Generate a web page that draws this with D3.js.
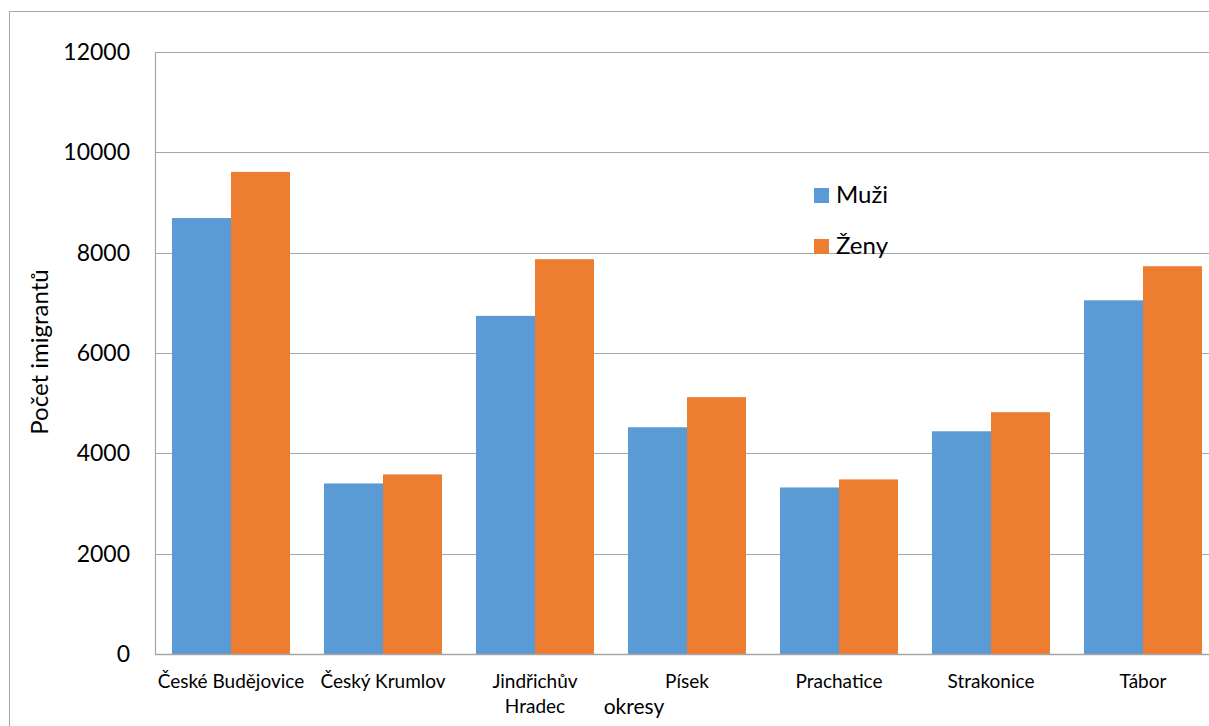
<!DOCTYPE html>
<html>
<head>
<meta charset="utf-8">
<script src="https://cdn.jsdelivr.net/npm/d3@7"></script>
<style>
  body { margin: 0; background: #fff; }
  text { font-family: Lato, "Open Sans", sans-serif; fill: #000; }
</style>
</head>
<body>
<div id="chart-container"></div>
<script>
const categories = ["České Budějovice", "Český Krumlov", "Jindřichův Hradec", "Písek", "Prachatice", "Strakonice", "Tábor"];
const seriesNames = ["Muži", "Ženy"];
const muzi = [8690, 3400, 6740, 4520, 3320, 4440, 7050];
const zeny = [9610, 3580, 7870, 5120, 3480, 4820, 7730];
const yTicks = [0, 2000, 4000, 6000, 8000, 10000, 12000];

const colors = ["#5B9BD5", "#ED7D31"];
const width = 1209, height = 726;
const margin = { top: 52, left: 155, bottom: 72, right: -10 };

const data = categories.map((c, i) => ({ cat: c, Muži: muzi[i], Ženy: zeny[i] }));

const svg = d3.select("#chart-container")
  .append("svg")
  .attr("width", width)
  .attr("height", height);

// outer chart frame
svg.append("rect")
  .attr("x", 9.5).attr("y", 11.5)
  .attr("width", 1300).attr("height", 800)
  .attr("fill", "none")
  .attr("stroke", "#A6A6A6")
  .attr("stroke-width", 1);

const x = d3.scaleBand()
  .domain(categories)
  .range([margin.left, width - margin.right])
  .paddingInner(0.224)
  .paddingOuter(0.112);

const x1 = d3.scaleBand()
  .domain(seriesNames)
  .range([0, x.bandwidth()]);

const y = d3.scaleLinear()
  .domain([0, 12000])
  .range([height - margin.bottom, margin.top]);

// gridlines
svg.append("g")
  .selectAll("line")
  .data(yTicks.filter(d => d > 0))
  .join("line")
  .attr("x1", margin.left)
  .attr("x2", width)
  .attr("y1", d => Math.round(y(d)) + 0.5)
  .attr("y2", d => Math.round(y(d)) + 0.5)
  .attr("stroke", "#A6A6A6")
  .attr("stroke-width", 1.2);

// left axis line
svg.append("line")
  .attr("x1", margin.left + 0.5).attr("x2", margin.left + 0.5)
  .attr("y1", margin.top).attr("y2", y(0))
  .attr("stroke", "#A6A6A6").attr("stroke-width", 1.2);

// bars
svg.append("g")
  .selectAll("g")
  .data(data)
  .join("g")
  .attr("transform", d => `translate(${x(d.cat)},0)`)
  .selectAll("rect")
  .data(d => seriesNames.map((k, i) => ({ key: k, value: d[k], i })))
  .join("rect")
  .attr("x", d => x1(d.key))
  .attr("y", d => y(d.value))
  .attr("width", x1.bandwidth())
  .attr("height", d => y(0) - y(d.value))
  .attr("fill", d => colors[d.i]);

// bottom axis line
svg.append("line")
  .attr("x1", margin.left).attr("x2", width)
  .attr("y1", Math.round(y(0)) + 0.5).attr("y2", Math.round(y(0)) + 0.5)
  .attr("stroke", "#A6A6A6").attr("stroke-width", 1.4);

// y tick labels
svg.append("g")
  .selectAll("text")
  .data(yTicks)
  .join("text")
  .attr("x", 130)
  .attr("y", d => y(d) + 8)
  .attr("text-anchor", "end")
  .style("font-size", "23px")
  .text(d => d);

// category labels (wrap Jindřichův Hradec)
const catLabels = svg.append("g")
  .selectAll("text")
  .data(categories)
  .join("text")
  .attr("x", d => x(d) + x.bandwidth() / 2)
  .attr("y", 688)
  .attr("text-anchor", "middle")
  .style("font-size", "19px");

catLabels.each(function (d) {
  const t = d3.select(this);
  const lines = d === "Jindřichův Hradec" ? ["Jindřichův", "Hradec"] : [d];
  lines.forEach((l, i) => {
    t.append("tspan")
      .attr("x", x(d) + x.bandwidth() / 2)
      .attr("dy", i === 0 ? 0 : 25)
      .text(l);
  });
});

// axis titles
svg.append("text")
  .attr("x", 634)
  .attr("y", 714)
  .attr("text-anchor", "middle")
  .style("font-size", "21px")
  .text("okresy");

svg.append("text")
  .attr("transform", "translate(48,352) rotate(-90)")
  .attr("text-anchor", "middle")
  .style("font-size", "24px")
  .text("Počet imigrantů");

// legend
const legend = svg.append("g")
  .selectAll("g")
  .data(seriesNames)
  .join("g")
  .attr("transform", (d, i) => `translate(814,${188 + i * 51})`);

legend.append("rect")
  .attr("width", 15).attr("height", 15)
  .attr("fill", (d, i) => colors[i]);

legend.append("text")
  .attr("x", 22)
  .attr("y", 15)
  .style("font-size", "24px")
  .text(d => d);
</script>
</body>
</html>
